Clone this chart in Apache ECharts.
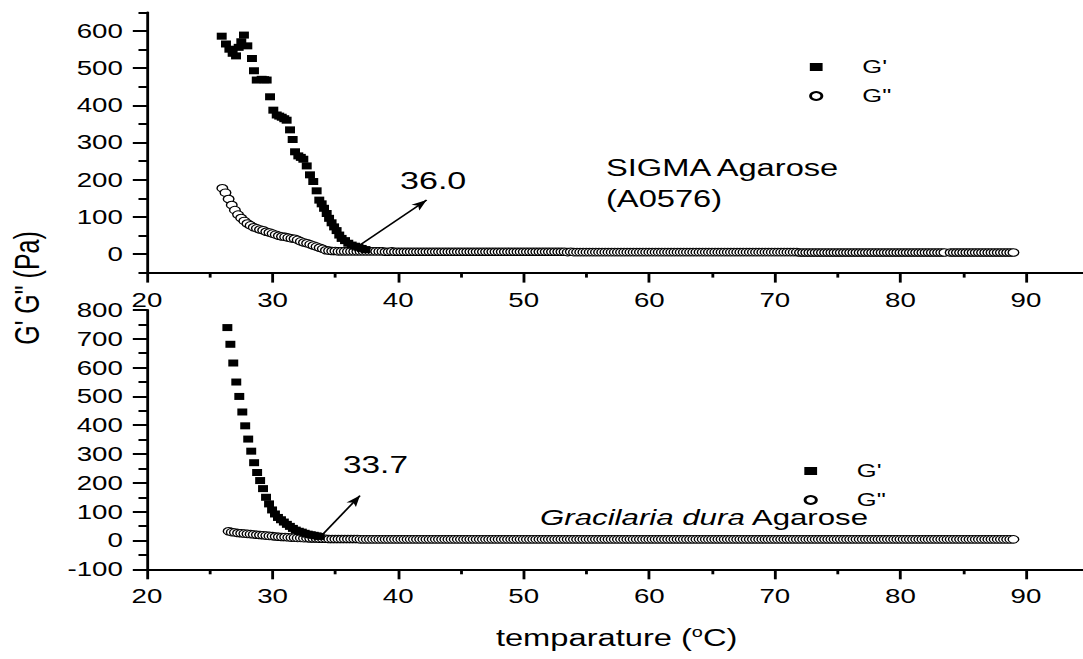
<!DOCTYPE html>
<html><head><meta charset="utf-8">
<script src="https://cdn.jsdelivr.net/npm/echarts@6/dist/echarts.min.js"></script>
<style>
html,body{margin:0;padding:0;background:#fff;overflow:hidden;}
#wrap{width:1083px;height:659px;overflow:hidden;position:relative;background:#fff;}
#chart{width:820px;height:659px;transform:scaleX(1.42);transform-origin:0 0;}
</style></head><body>
<div id="wrap"><div id="chart"></div></div>
<script>
// ---------------- DATA ----------------
const xTickLabels = [20, 30, 40, 50, 60, 70, 80, 90];
const topYTicks = [0, 100, 200, 300, 400, 500, 600];
const bottomYTicks = [-100, 0, 100, 200, 300, 400, 500, 600, 700, 800];

// SIGMA Agarose (A0576) : G' (filled squares)
const topGpTemp = [25.95,26.29,26.56,26.82,27.09,27.3,27.51,27.72,27.99,28.36,28.52,28.74,29.13,29.33,29.53,29.8,30.06,30.33,30.53,30.73,30.93,31.12,31.39,31.6,31.79,32.05,32.25,32.45,32.72,32.98,33.24,33.51,33.72,33.91,34.1,34.31,34.5,34.7,34.9,35.1,35.31,35.5,35.77,36.03,36.3,36.57,36.84,37.1,37.4];
const topGp = [586,565,551,540,533,556,571,589,560,526,493,468,470,469,468,423,387,374,371,368,364,360,334,308,275,264,260,255,237,213,195,170,145,135,123,109,96,84,73,63,51,42,36,29,24,21,18,15,12];

// SIGMA Agarose (A0576) : G'' (open circles)
const topTemp = [
26,26.25,26.5,26.75,27,27.25,27.5,27.75,
28,28.25,28.5,28.75,29,29.25,29.5,29.75,
30,30.25,30.5,30.75,31,31.25,31.5,31.75,
32,32.25,32.5,32.75,33,33.25,33.5,33.75,
34,34.25,34.5,34.75,35,35.25,35.5,35.75,
36,36.25,36.5,36.75,37,37.25,37.5,37.75,
38,38.25,38.5,38.75,39,39.25,39.5,39.75,
40,40.25,40.5,40.75,41,41.25,41.5,41.75,
42,42.25,42.5,42.75,43,43.25,43.5,43.75,
44,44.25,44.5,44.75,45,45.25,45.5,45.75,
46,46.25,46.5,46.75,47,47.25,47.5,47.75,
48,48.25,48.5,48.75,49,49.25,49.5,49.75,
50,50.25,50.5,50.75,51,51.25,51.5,51.75,
52,52.25,52.5,52.75,53,53.25,53.5,53.75,
54,54.25,54.5,54.75,55,55.25,55.5,55.75,
56,56.25,56.5,56.75,57,57.25,57.5,57.75,
58,58.25,58.5,58.75,59,59.25,59.5,59.75,
60,60.25,60.5,60.75,61,61.25,61.5,61.75,
62,62.25,62.5,62.75,63,63.25,63.5,63.75,
64,64.25,64.5,64.75,65,65.25,65.5,65.75,
66,66.25,66.5,66.75,67,67.25,67.5,67.75,
68,68.25,68.5,68.75,69,69.25,69.5,69.75,
70,70.25,70.5,70.75,71,71.25,71.5,71.75,
72,72.25,72.5,72.75,73,73.25,73.5,73.75,
74,74.25,74.5,74.75,75,75.25,75.5,75.75,
76,76.25,76.5,76.75,77,77.25,77.5,77.75,
78,78.25,78.5,78.75,79,79.25,79.5,79.75,
80,80.25,80.5,80.75,81,81.25,81.5,81.75,
82,82.25,82.5,82.75,83,83.25,83.5,
84,84.25,84.5,84.75,85,85.25,85.5,85.75,
86,86.25,86.5,86.75,87,87.25,87.5,87.75,
88,88.25,88.5,88.75,89];
const topGpp = [
177,165,148,132,118,106,97,89,
82,77,72,69,66,64,60,58,
55,52,49,47,46,44,42,41,
38,34,31,29,26,23,20,17,
14,10,9,8,8,7,7,7,
7,7,7,7,7,7,7,7,
7,7,7,7,6,6,7,6,
6,6,6,6,6,6,6,6,
6,6,6,6,6,6,6,6,
6,6,6,6,6,6,6,6,
6,6,6,6,6,6,6,6,
6,6,6,6,6,6,6,6,
6,6,6,6,6,6,6,6,
6,6,6,6,6,6,5,6,
5,5,5,5,5,5,5,5,
5,5,5,5,5,5,5,5,
5,5,5,5,5,5,5,5,
5,5,5,5,5,5,5,5,
5,5,5,5,5,5,5,5,
5,5,5,5,5,5,5,5,
5,5,5,5,5,5,5,5,
5,5,5,5,5,5,5,5,
5,5,5,5,5,5,5,5,
4,4,4,4,4,4,4,4,
4,4,4,4,4,4,4,4,
4,4,4,4,4,4,4,4,
4,4,4,4,4,4,4,4,
4,4,4,4,4,4,4,4,
4,4,4,4,4,4,4,
4,4,4,4,4,4,4,4,
4,4,4,4,4,4,4,4,
4,4,4,4,4];

// Gracilaria dura Agarose : G'
const botGpTemp = [26.4,26.64,26.87,27.11,27.35,27.59,27.82,28.06,28.3,28.53,28.77,29.01,29.24,29.48,29.72,29.96,30.19,30.43,30.67,30.9,31.14,31.38,31.62,31.85,32.09,32.33,32.56,32.8,33.04,33.28,33.51,33.75];
const botGp = [739,681,616,550,500,446,398,352,310,270,236,208,180,150,127,106,92,80,72,64,56,49,42,36,32,29,25,22,20,18,16,14];

// Gracilaria dura Agarose : G''
const botTemp = [
26.5,26.75,27,27.25,27.5,27.75,
28,28.25,28.5,28.75,29,29.25,29.5,29.75,
30,30.25,30.5,30.75,31,31.25,31.5,31.75,
32,32.25,32.5,32.75,33,33.25,33.5,33.75,
34,34.25,34.5,34.75,35,35.25,35.5,35.75,
36,36.25,36.5,36.75,37,37.25,37.5,37.75,
38,38.25,38.5,38.75,39,39.25,39.5,39.75,
40,40.25,40.5,40.75,41,41.25,41.5,41.75,
42,42.25,42.5,42.75,43,43.25,43.5,43.75,
44,44.25,44.5,44.75,45,45.25,45.5,45.75,
46,46.25,46.5,46.75,47,47.25,47.5,47.75,
48,48.25,48.5,48.75,49,49.25,49.5,49.75,
50,50.25,50.5,50.75,51,51.25,51.5,51.75,
52,52.25,52.5,52.75,53,53.25,53.5,53.75,
54,54.25,54.5,54.75,55,55.25,55.5,55.75,
56,56.25,56.5,56.75,57,57.25,57.5,57.75,
58,58.25,58.5,58.75,59,59.25,59.5,59.75,
60,60.25,60.5,60.75,61,61.25,61.5,61.75,
62,62.25,62.5,62.75,63,63.25,63.5,63.75,
64,64.25,64.5,64.75,65,65.25,65.5,65.75,
66,66.25,66.5,66.75,67,67.25,67.5,67.75,
68,68.25,68.5,68.75,69,69.25,69.5,69.75,
70,70.25,70.5,70.75,71,71.25,71.5,71.75,
72,72.25,72.5,72.75,73,73.25,73.5,73.75,
74,74.25,74.5,74.75,75,75.25,75.5,75.75,
76,76.25,76.5,76.75,77,77.25,77.5,77.75,
78,78.25,78.5,78.75,79,79.25,79.5,79.75,
80,80.25,80.5,80.75,81,81.25,81.5,81.75,
82,82.25,82.5,82.75,83,83.25,83.5,83.75,
84,84.25,84.5,84.75,85,85.25,85.5,85.75,
86,86.25,86.5,86.75,87,87.25,87.5,87.75,
88,88.25,88.5,88.75,89];
const botGpp = [
32,29,28,26,25,24,
23,22,21,20,19,18,17,16,
15,14,13,12,12,11,10,10,
9,9,8,8,7,7,7,6,
6,6,5,5,5,5,5,5,
5,5,5,5,4,4,4,4,
4,4,4,4,4,4,4,4,
4,4,4,4,4,4,4,4,
4,4,4,4,4,4,4,4,
4,4,4,4,4,4,4,4,
4,4,4,4,4,4,4,4,
4,4,4,4,4,4,4,4,
4,4,4,4,4,4,4,4,
4,4,4,4,4,4,4,4,
4,4,4,4,4,4,4,4,
4,4,4,4,4,4,4,4,
4,4,4,4,4,4,4,4,
4,4,4,4,4,4,4,4,
4,4,4,4,4,4,4,4,
4,4,4,4,4,4,4,4,
4,4,4,4,4,4,4,4,
4,4,4,4,4,4,4,4,
4,4,4,4,4,4,4,4,
4,4,4,4,4,4,4,4,
4,4,4,4,4,4,4,4,
4,4,4,4,4,4,4,4,
4,4,4,4,4,4,4,4,
4,4,4,4,4,4,4,4,
4,4,4,4,4,4,4,4,
4,4,4,4,4,4,4,4,
4,4,4,4,4,4,4,4,
4,4,4,4,4];

// annotation arrows (data coordinates: [temperature, modulus])
const arrowTop = [[36.96, 24], [42.27, 145]];
const arrowBottom = [[33.9, 17], [36.96, 156]];
const arrowTopLabel = '36.0';
const arrowBottomLabel = '33.7';
const seriesNames = ["G'", 'G"'];

// ---------------- CHART ----------------
const S = 1.42;                 // original figure is stretched horizontally
const px = v => v / S;          // image x-pixels -> chart pixels
const FONT = '"Liberation Sans", Arial, Helvetica, sans-serif';
const zip = (xs, ys) => xs.slice(0, Math.min(xs.length, ys.length)).map((x, i) => [x, ys[i]]);

const L = px(147);
const UNIT = px(12.557);        // px per degree
const W = 80 * UNIT;            // 20..100 (right part runs off the page)

const lineSty = {color: '#000', width: 2};
const labelSty = {fontSize: 19.5, color: '#000', fontFamily: FONT, margin: 17};

function xAx(gi, extra) {
  return Object.assign({
    type: 'value', gridIndex: gi, min: 20, max: 100, interval: 10,
    axisLine: {show: true, onZero: false, lineStyle: lineSty},
    axisTick: {show: true, length: 10, lineStyle: lineSty},
    minorTick: {show: true, splitNumber: 2, length: 5, lineStyle: lineSty},
    splitLine: {show: false},
    axisLabel: Object.assign({}, labelSty, {
      formatter: v => (xTickLabels.indexOf(v) >= 0 ? String(v) : '')
    })
  }, extra || {});
}

const symCircle = {symbol: 'circle', symbolSize: 7.5,
  itemStyle: {color: '#fff', borderColor: '#000', borderWidth: 1, opacity: 1}};
const symSquare = {symbol: 'rect', symbolSize: 7, itemStyle: {color: '#000', opacity: 1}};
const arrowML = pts => ({
  silent: true, symbol: ['none', 'arrow'], symbolSize: [6, 11],
  label: {show: false}, emphasis: {disabled: true},
  lineStyle: {color: '#000', width: 1.4, type: 'solid', opacity: 1},
  data: [[{coord: pts[0]}, {coord: pts[1]}]]
});

const legendCfg = (left, top) => ({
  data: seriesNames, orient: 'vertical', left: left, top: top,
  itemWidth: 9, itemHeight: 8, itemGap: 9, padding: 0, selectedMode: false,
  itemStyle: {opacity: 1},
  textStyle: {fontSize: 18, color: '#000', fontFamily: FONT, lineHeight: 20, padding: [0, 0, 0, 23]}
});

const txt = (x, y, text, size, extra) => ({
  type: 'text', x: x, y: y, silent: true,
  style: Object.assign({text: text, fontSize: size, fontFamily: FONT, fill: '#000',
    align: 'left', verticalAlign: 'middle'}, extra || {})
});

const option = {
  animation: false,
  backgroundColor: '#fff',
  grid: [
    {left: L, top: 12.4, width: W, height: 260.2},
    {left: L, top: 310, width: W, height: 259.3},
    {left: L, top: 31.0, width: W, height: 223.0}
  ],
  xAxis: [
    xAx(0),
    xAx(1, {
      name: 'temparature ({s|o}C)', nameLocation: 'middle', nameGap: 56,
      nameTextStyle: {fontSize: 23, color: '#000', fontFamily: FONT, padding: [0, 46, 0, 0],
        rich: {s: {fontSize: 14, fontFamily: FONT, color: '#000', padding: [0, 0, 12, 0]}}}
    }),
    {type: 'value', gridIndex: 2, min: 20, max: 100, show: false}
  ],
  yAxis: [
    {type: 'value', gridIndex: 0, min: -50, max: 650, interval: 50,
      axisLine: {show: true, onZero: false, lineStyle: lineSty},
      axisTick: {show: true, length: 6, lineStyle: lineSty},
      axisLabel: {show: false}, splitLine: {show: false}},
    {type: 'value', gridIndex: 1, min: bottomYTicks[0], max: bottomYTicks[bottomYTicks.length - 1], interval: 100,
      axisLine: {show: true, onZero: false, lineStyle: lineSty},
      axisTick: {show: true, length: 10, lineStyle: lineSty},
      minorTick: {show: true, splitNumber: 2, length: 6, lineStyle: lineSty},
      axisLabel: labelSty, splitLine: {show: false}},
    {type: 'value', gridIndex: 2, min: topYTicks[0], max: topYTicks[topYTicks.length - 1], interval: 100,
      axisLine: {show: false, onZero: false},
      axisTick: {show: true, length: 10, lineStyle: lineSty},
      axisLabel: labelSty, splitLine: {show: false}}
  ],
  legend: [legendCfg(px(815.5) - 4.5, 57), legendCfg(px(810) - 4.5, 461)],
  series: [
    Object.assign({name: seriesNames[1], type: 'scatter', xAxisIndex: 0, yAxisIndex: 0,
      data: zip(topTemp, topGpp)}, symCircle),
    Object.assign({name: seriesNames[0], type: 'scatter', xAxisIndex: 0, yAxisIndex: 0,
      data: zip(topGpTemp, topGp), markLine: arrowML(arrowTop)}, symSquare),
    Object.assign({name: seriesNames[1], type: 'scatter', xAxisIndex: 1, yAxisIndex: 1,
      data: zip(botTemp, botGpp)}, symCircle),
    Object.assign({name: seriesNames[0], type: 'scatter', xAxisIndex: 1, yAxisIndex: 1,
      data: zip(botGpTemp, botGp), markLine: arrowML(arrowBottom)}, symSquare)
  ],
  graphic: [
    txt(px(400), 180, arrowTopLabel, 24),
    txt(px(606), 168, 'SIGMA Agarose', 23),
    txt(px(606), 199, '(A0576)', 23),
    txt(px(343), 465, arrowBottomLabel, 23.5),
    txt(px(540), 518, '{i|Gracilaria dura} Agarose', 22,
      {rich: {i: {fontStyle: 'italic', fontSize: 22, fontFamily: FONT, fill: '#000'}}}),
    {type: 'text', x: px(27), y: 288, rotation: Math.PI / 2, silent: true,
      style: {text: 'G\' G" (Pa)', fontSize: 25, fontFamily: FONT, fill: '#000',
        align: 'center', verticalAlign: 'middle'}}
  ]
};

const chart = echarts.init(document.getElementById('chart'), null, {renderer: 'svg'});
chart.setOption(option);
</script>
</body></html>
